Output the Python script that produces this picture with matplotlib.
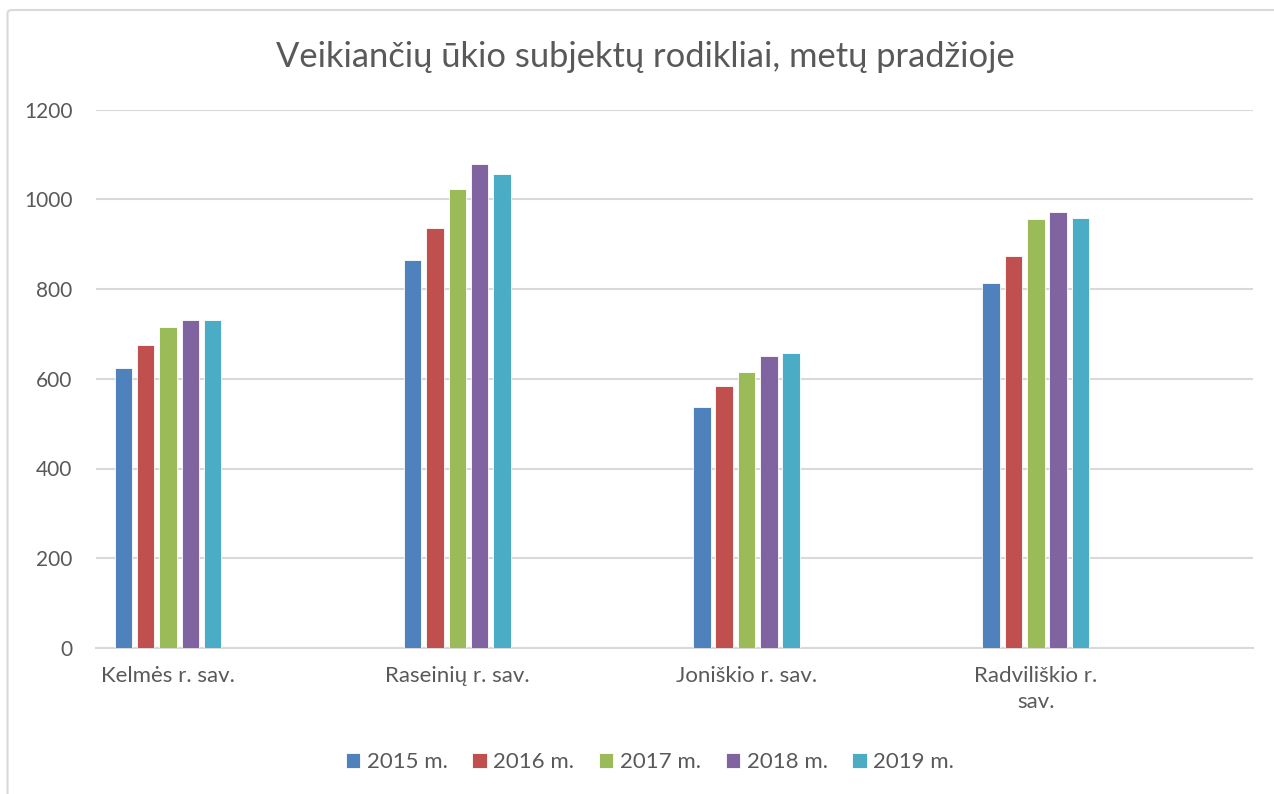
import numpy as np
import matplotlib.pyplot as plt
from matplotlib.patches import FancyBboxPatch

# values
categories = ["Kelmės r. sav.", "Raseinių r. sav.", "Joniškio r. sav.", "Radviliškio r.\nsav."]
years = ["2015 m.", "2016 m.", "2017 m.", "2018 m.", "2019 m."]
v2015 = [625, 864, 536, 813]
v2016 = [675, 937, 583, 874]
v2017 = [715, 1022, 616, 955]
v2018 = [730, 1079, 650, 971]
v2019 = [732, 1056, 658, 959]
series = [v2015, v2016, v2017, v2018, v2019]
colors = ["#4F81BD", "#C0504D", "#9BBB59", "#8064A2", "#4BACC6"]

plt.rcParams['font.family'] = ['Lato', 'DejaVu Sans']

fig = plt.figure(figsize=(12.74, 7.94), dpi=100)
ax = fig.add_axes([96 / 1274, 1 - 648 / 794, (1253 - 96) / 1274, (648 - 109.5) / 794])

# chart border (light grey, runs off the right/bottom like in the reference)
fig.patches.append(FancyBboxPatch((7.5 / 1274, -0.05), 1.1, 1 - 10 / 794 + 0.05,
                                  boxstyle="round,pad=0,rounding_size=0.004",
                                  transform=fig.transFigure, fill=False,
                                  edgecolor="#D9D9D9", linewidth=1.5))

x = np.arange(len(categories))
slot = 22.3 / 289.3
width = 17.5 / 289.3
for i, (vals, col, lab) in enumerate(zip(series, colors, years)):
    ax.bar(x + (i - 2) * slot, vals, width=width, color=col, label=lab,
           edgecolor="white", linewidth=0.6, zorder=3)

ax.set_xlim(-0.249, 3.751)
ax.set_ylim(0, 1200)
ax.set_yticks(range(0, 1201, 200))
ax.yaxis.grid(True, color="#D9D9D9", linewidth=1.5, zorder=0)
ax.set_axisbelow(True)
for s in ["top", "right", "left"]:
    ax.spines[s].set_visible(False)
ax.spines["bottom"].set_color("#D9D9D9")
ax.spines["bottom"].set_linewidth(1.5)

ax.set_xticks(x)
ax.set_xticklabels(categories, linespacing=1.35)
ax.tick_params(axis="both", length=0, labelcolor="#595959")
ax.tick_params(axis="y", pad=17, labelsize=15)
ax.tick_params(axis="x", pad=13, labelsize=16)

fig.text(645 / 1274, 1 - 57 / 794, "Veikiančių ūkio subjektų rodikliai, metų pradžioje",
         ha="center", va="center", fontsize=24.8, color="#595959")

fig.legend(loc="center", bbox_to_anchor=(650 / 1274, 1 - 762 / 794), ncol=5,
           frameon=False, fontsize=16, labelcolor="#595959",
           handlelength=0.65, handleheight=0.65, handletextpad=0.3, columnspacing=1.1)

fig.savefig("out.png", dpi=100, facecolor="white")
